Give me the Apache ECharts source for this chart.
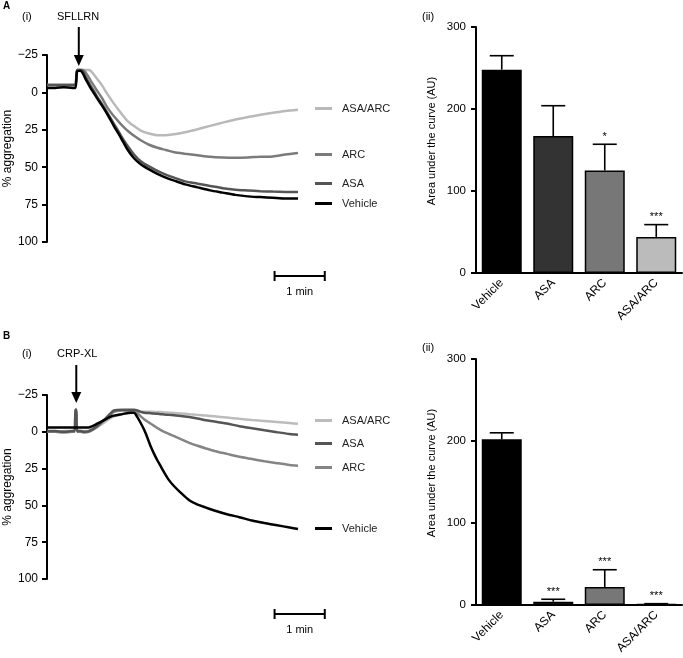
<!DOCTYPE html>
<html><head><meta charset="utf-8">
<script src="https://cdn.jsdelivr.net/npm/echarts@6/dist/echarts.min.js"></script>
<style>html,body{margin:0;padding:0;background:#fff}#c{width:683px;height:658px}</style>
</head><body><div id="c"></div>
<script>
const FONT = '"Liberation Sans", Arial, Helvetica, sans-serif';

// ---------- DATA ----------
const groups = ['Vehicle', 'ASA', 'ARC', 'ASA/ARC'];
const aggTicks = [-25, 0, 25, 50, 75, 100];

// Panel A(i): SFLLRN aggregation traces (time in s, % aggregation)
const timeA = [0, 10, 20, 30, 34, 36, 40, 43, 46, 50, 52, 56, 60, 66, 72, 80, 88, 96, 104, 112, 122, 132, 142, 152, 165, 180, 195, 210, 225, 240, 255, 270, 285, 300];
const vehicleA = [-3, -3, -3.5, -3, -3, -14, -14.5, -12.5, -9, -5, -3, 0.5, 4, 9, 14.5, 22.5, 30, 38, 44, 48, 51.5, 54.5, 57, 59, 61.5, 63.5, 65.5, 67, 68.5, 69.5, 70, 70.5, 71, 71];
const asaA = [-5, -5, -5, -5, -5, -15, -15, -14, -10.5, -6.5, -4.5, -1, 3, 8, 13.5, 21, 28.5, 35.5, 41.5, 46, 49.5, 52.5, 55, 57, 59.5, 61, 62.5, 64, 65, 65.5, 66, 66.3, 66.5, 66.6];
const arcA = [-5, -5, -5, -5, -5, -15, -15, -15, -13.5, -10, -8, -4.5, -1, 4, 10, 16, 21, 25.5, 29, 32, 35, 37, 38.5, 40, 41, 42, 43, 43.5, 43.7, 43.5, 43, 42.8, 41.5, 40.5];
const asaArcA = [-5, -5, -5, -5, -5, -15, -15, -15, -15, -15, -14.5, -12, -9, -4.5, 1, 7.5, 13.5, 19, 22.5, 25.5, 27.5, 28.7, 28.6, 28, 26.6, 24.6, 22.4, 20.2, 18.1, 16.5, 15, 13.6, 12.4, 11.6];
const injectA = 38;

// Panel B(i): CRP-XL aggregation traces
const timeB = [0, 10, 20, 30, 33, 34, 35, 36, 40, 45, 50, 55, 60, 65, 70, 75, 80, 90, 100, 104, 108, 112, 116, 120, 124, 128, 132, 136, 140, 146, 152, 160, 170, 180, 190, 200, 215, 230, 245, 260, 275, 290, 300];
const vehicleB = [-3, -3, -3, -3, -3, -3, -3, -3, -3, -3, -3, -4, -5.5, -7, -8.5, -10, -11, -12, -13, -13, -10, -6, -1.5, 4, 10, 15, 19.5, 23.5, 27.5, 33, 37, 41.5, 46.5, 49.5, 51.5, 53.5, 56, 58, 60.3, 62, 63.5, 65, 66];
const asaB = [-0.5, -0.5, 0, -0.5, -0.5, -15, -15, -0.5, -0.5, 0, -0.5, -2, -4, -6.5, -9, -12, -14.5, -15, -15, -15, -14.5, -13.5, -13, -12.8, -12.6, -12.4, -12.2, -12, -11.8, -11.5, -11.2, -10.8, -10, -9, -7.8, -7, -5.6, -3.8, -2.4, -1, 0.3, 1.5, 2];
const arcB = [0, 0, 0.5, 0, 0, -15, -15, 0, 0, 0.5, 0, -1.5, -3.5, -6, -8.5, -11, -13.5, -14.5, -14, -13.5, -12.5, -10.5, -8.5, -7, -5.5, -4, -2.5, -1.2, 0, 1.5, 3, 5, 7.5, 9.5, 11.3, 13, 15, 17, 18.5, 20, 21.3, 22.5, 23];
const asaArcB = [-0.5, 0, -0.5, -0.5, -0.5, -15, -15, -0.5, -0.5, -0.5, -0.5, -1.5, -3, -5, -7, -9, -10.5, -12, -13.2, -13.5, -13.7, -13.7, -13.7, -13.6, -13.6, -13.5, -13.5, -13.4, -13.2, -13, -12.8, -12.5, -12, -11.5, -11, -10.5, -9.7, -8.8, -8, -7.3, -6.6, -5.9, -5.4];
const injectB = 35;

// Panels A(ii), B(ii): area under the curve (AU), mean and SEM
const aucA = [248, 167, 125, 44];
const semA = [17, 37, 32, 15];
const starsA = ['', '', '*', '***'];
const aucB = [202, 4, 22, 1];
const semB = [8, 3, 21, 0.6];
const starsB = ['', '***', '***', '***'];

// ---------- STYLE ----------
const barColors = ['#000000', '#333333', '#777777', '#bbbbbb'];
const lineColA = { 'Vehicle': '#000000', 'ASA': '#555555', 'ARC': '#7b7b7b', 'ASA/ARC': '#b9b9b9' };
const lineColB = { 'Vehicle': '#000000', 'ASA': '#555555', 'ARC': '#858585', 'ASA/ARC': '#bcbcbc' };

const pairs = (t, v) => t.map((x, i) => [x, v[i]]);
const minus = v => String(v).replace('-', '\u2212');

function lineSeries(name, t, v, color, gi) {
  return { type: 'line', name: name, xAxisIndex: gi, yAxisIndex: gi, data: pairs(t, v),
    showSymbol: false, symbol: 'none', smooth: 0.25, lineStyle: { color: color, width: 2.5 },
    itemStyle: { color: color }, emphasis: { disabled: true } };
}

function errRender(stars) {
  return function (params, api) {
    const i = api.value(0), v = api.value(1), e = api.value(2);
    const p0 = api.coord([i, v]), p1 = api.coord([i, v + e]);
    const hw = 12;
    const ch = [
      { type: 'line', shape: { x1: p0[0], y1: p0[1], x2: p1[0], y2: p1[1] }, style: { stroke: '#000', lineWidth: 1.6 } },
      { type: 'line', shape: { x1: p1[0] - hw, y1: p1[1], x2: p1[0] + hw, y2: p1[1] }, style: { stroke: '#000', lineWidth: 1.6 } }
    ];
    if (stars[i]) ch.push({ type: 'text', x: p1[0], y: p1[1] - 2,
      style: { text: stars[i], align: 'center', verticalAlign: 'bottom', font: '11px ' + FONT, fill: '#000' } });
    return { type: 'group', children: ch };
  };
}

function lineY(gi) {
  return { type: 'value', gridIndex: gi, inverse: true, min: -25, max: 100, interval: 25,
    axisLine: { show: true, lineStyle: { color: '#000', width: 2 } },
    axisTick: { show: true, length: 5, lineStyle: { color: '#000', width: 2 } },
    splitLine: { show: false },
    axisLabel: { formatter: minus, fontSize: 12, color: '#000', fontFamily: FONT, margin: 9 },
    name: '% aggregation', nameLocation: 'middle', nameGap: 33,
    nameTextStyle: { fontSize: 12, color: '#000', fontFamily: FONT } };
}
function barY(gi) {
  return { type: 'value', gridIndex: gi, min: 0, max: 300, interval: 100,
    axisLine: { show: true, lineStyle: { color: '#000', width: 2 } },
    axisTick: { show: true, length: 5, lineStyle: { color: '#000', width: 2 } },
    splitLine: { show: false },
    axisLabel: { fontSize: 11.5, color: '#000', fontFamily: FONT, margin: 10 },
    name: 'Area under the curve (AU)', nameLocation: 'middle', nameGap: 39,
    nameTextStyle: { fontSize: 11, color: '#000', fontFamily: FONT, padding: [0, 0, 0, 18] } };
}
function barX(gi) {
  return { type: 'category', gridIndex: gi, data: groups,
    axisLine: { lineStyle: { color: '#000', width: 2 } },
    axisTick: { alignWithLabel: true, length: 5, lineStyle: { color: '#000', width: 2 } },
    axisLabel: { rotate: 45, fontSize: 12, color: '#000', fontFamily: FONT, margin: 8 } };
}
function lineX(gi) { return { type: 'value', gridIndex: gi, min: 0, max: 300, show: false }; }

function legendAt(name, color, top) {
  return { data: [{ name: name, itemStyle: { color: color } }], left: 315, top: top, padding: 0,
    icon: 'rect', itemWidth: 17, itemHeight: 3, selectedMode: false,
    textStyle: { fontSize: 11, color: '#222', fontFamily: FONT, padding: [0, 0, 0, 5] } };
}

const chart = echarts.init(document.getElementById('c'), null, { renderer: 'canvas' });
const names = ['ASA/ARC', 'ARC', 'ASA', 'Vehicle'];
const seriesA = [asaArcA, arcA, asaA, vehicleA];
const seriesB = [asaArcB, arcB, asaB, vehicleB];

const option = {
  animation: false,
  backgroundColor: '#fff',
  textStyle: { fontFamily: FONT },
  grid: [
    { left: 47, top: 55, width: 251, height: 187 },
    { left: 476, top: 27, width: 206, height: 246 },
    { left: 47, top: 395, width: 251, height: 184 },
    { left: 476, top: 359, width: 206, height: 246 }
  ],
  xAxis: [lineX(0), barX(1), lineX(2), barX(3)],
  yAxis: [lineY(0), barY(1), lineY(2), barY(3)],
  legend: [
    legendAt('ASA/ARC', lineColA['ASA/ARC'], 103),
    legendAt('ARC', lineColA['ARC'], 149),
    legendAt('ASA', lineColA['ASA'], 178),
    legendAt('Vehicle', lineColA['Vehicle'], 198),
    legendAt('ASA/ARC', lineColB['ASA/ARC'], 415),
    legendAt('ASA', lineColB['ASA'], 438),
    legendAt('ARC', lineColB['ARC'], 462),
    legendAt('Vehicle', lineColB['Vehicle'], 523)
  ],
  series: [
    ...names.map((n, k) => lineSeries(n, timeA, seriesA[k], lineColA[n], 0)),
    ...names.map((n, k) => lineSeries(n, timeB, seriesB[k], lineColB[n], 2)),
    { type: 'bar', name: 'AUC A', xAxisIndex: 1, yAxisIndex: 1, barWidth: 40,
      data: aucA.map((v, i) => ({ value: v, itemStyle: { color: barColors[i], borderColor: '#000', borderWidth: 1.5 } })) },
    { type: 'custom', name: 'SEM A', xAxisIndex: 1, yAxisIndex: 1, z: 5,
      data: aucA.map((v, i) => [i, v, semA[i]]), renderItem: errRender(starsA) },
    { type: 'bar', name: 'AUC B', xAxisIndex: 3, yAxisIndex: 3, barWidth: 40,
      data: aucB.map((v, i) => ({ value: v, itemStyle: { color: barColors[i], borderColor: '#000', borderWidth: 1.5 } })) },
    { type: 'custom', name: 'SEM B', xAxisIndex: 3, yAxisIndex: 3, z: 5,
      data: aucB.map((v, i) => [i, v, semB[i]]), renderItem: errRender(starsB) }
  ]
};
chart.setOption(option);

// ---------- annotations (positions derived from the axes) ----------
function txt(x, y, s, opt) {
  return Object.assign({ type: 'text', x: x, y: y,
    style: Object.assign({ text: s, font: '11px ' + FONT, fill: '#000', verticalAlign: 'middle' }, opt || {}) });
}
function arrow(x, y0, y1) {
  return { type: 'group', children: [
    { type: 'line', shape: { x1: x, y1: y0, x2: x, y2: y1 - 9 }, style: { stroke: '#000', lineWidth: 2 } },
    { type: 'polygon', shape: { points: [[x - 5, y1 - 11], [x + 5, y1 - 11], [x, y1]] }, style: { fill: '#000' } }
  ] };
}
function scaleBar(gi, t0, t1, y) {
  const xa = chart.convertToPixel({ xAxisIndex: gi }, t0);
  const xb = chart.convertToPixel({ xAxisIndex: gi }, t1);
  return { type: 'group', children: [
    { type: 'line', shape: { x1: xa, y1: y, x2: xb, y2: y }, style: { stroke: '#000', lineWidth: 2 } },
    { type: 'line', shape: { x1: xa, y1: y - 5, x2: xa, y2: y + 5 }, style: { stroke: '#000', lineWidth: 2 } },
    { type: 'line', shape: { x1: xb, y1: y - 5, x2: xb, y2: y + 5 }, style: { stroke: '#000', lineWidth: 2 } },
    txt((xa + xb) / 2, y + 16, '1 min', { align: 'center' })
  ] };
}
const xInjA = chart.convertToPixel({ xAxisIndex: 0 }, injectA);
const xInjB = chart.convertToPixel({ xAxisIndex: 2 }, injectB);
chart.setOption({ graphic: [
  txt(3, 6, 'A', { font: 'bold 10px ' + FONT }),
  txt(22, 17, '(i)'),
  txt(57, 17, 'SFLLRN'),
  arrow(xInjA, 27, 66),
  scaleBar(0, 272, 332, 276),
  txt(422, 17, '(ii)'),
  txt(3, 336, 'B', { font: 'bold 10px ' + FONT }),
  txt(22, 354, '(i)'),
  txt(57, 354, 'CRP-XL'),
  arrow(xInjB, 365, 403),
  scaleBar(2, 272, 332, 614),
  txt(422, 348, '(ii)')
] });
</script></body></html>
